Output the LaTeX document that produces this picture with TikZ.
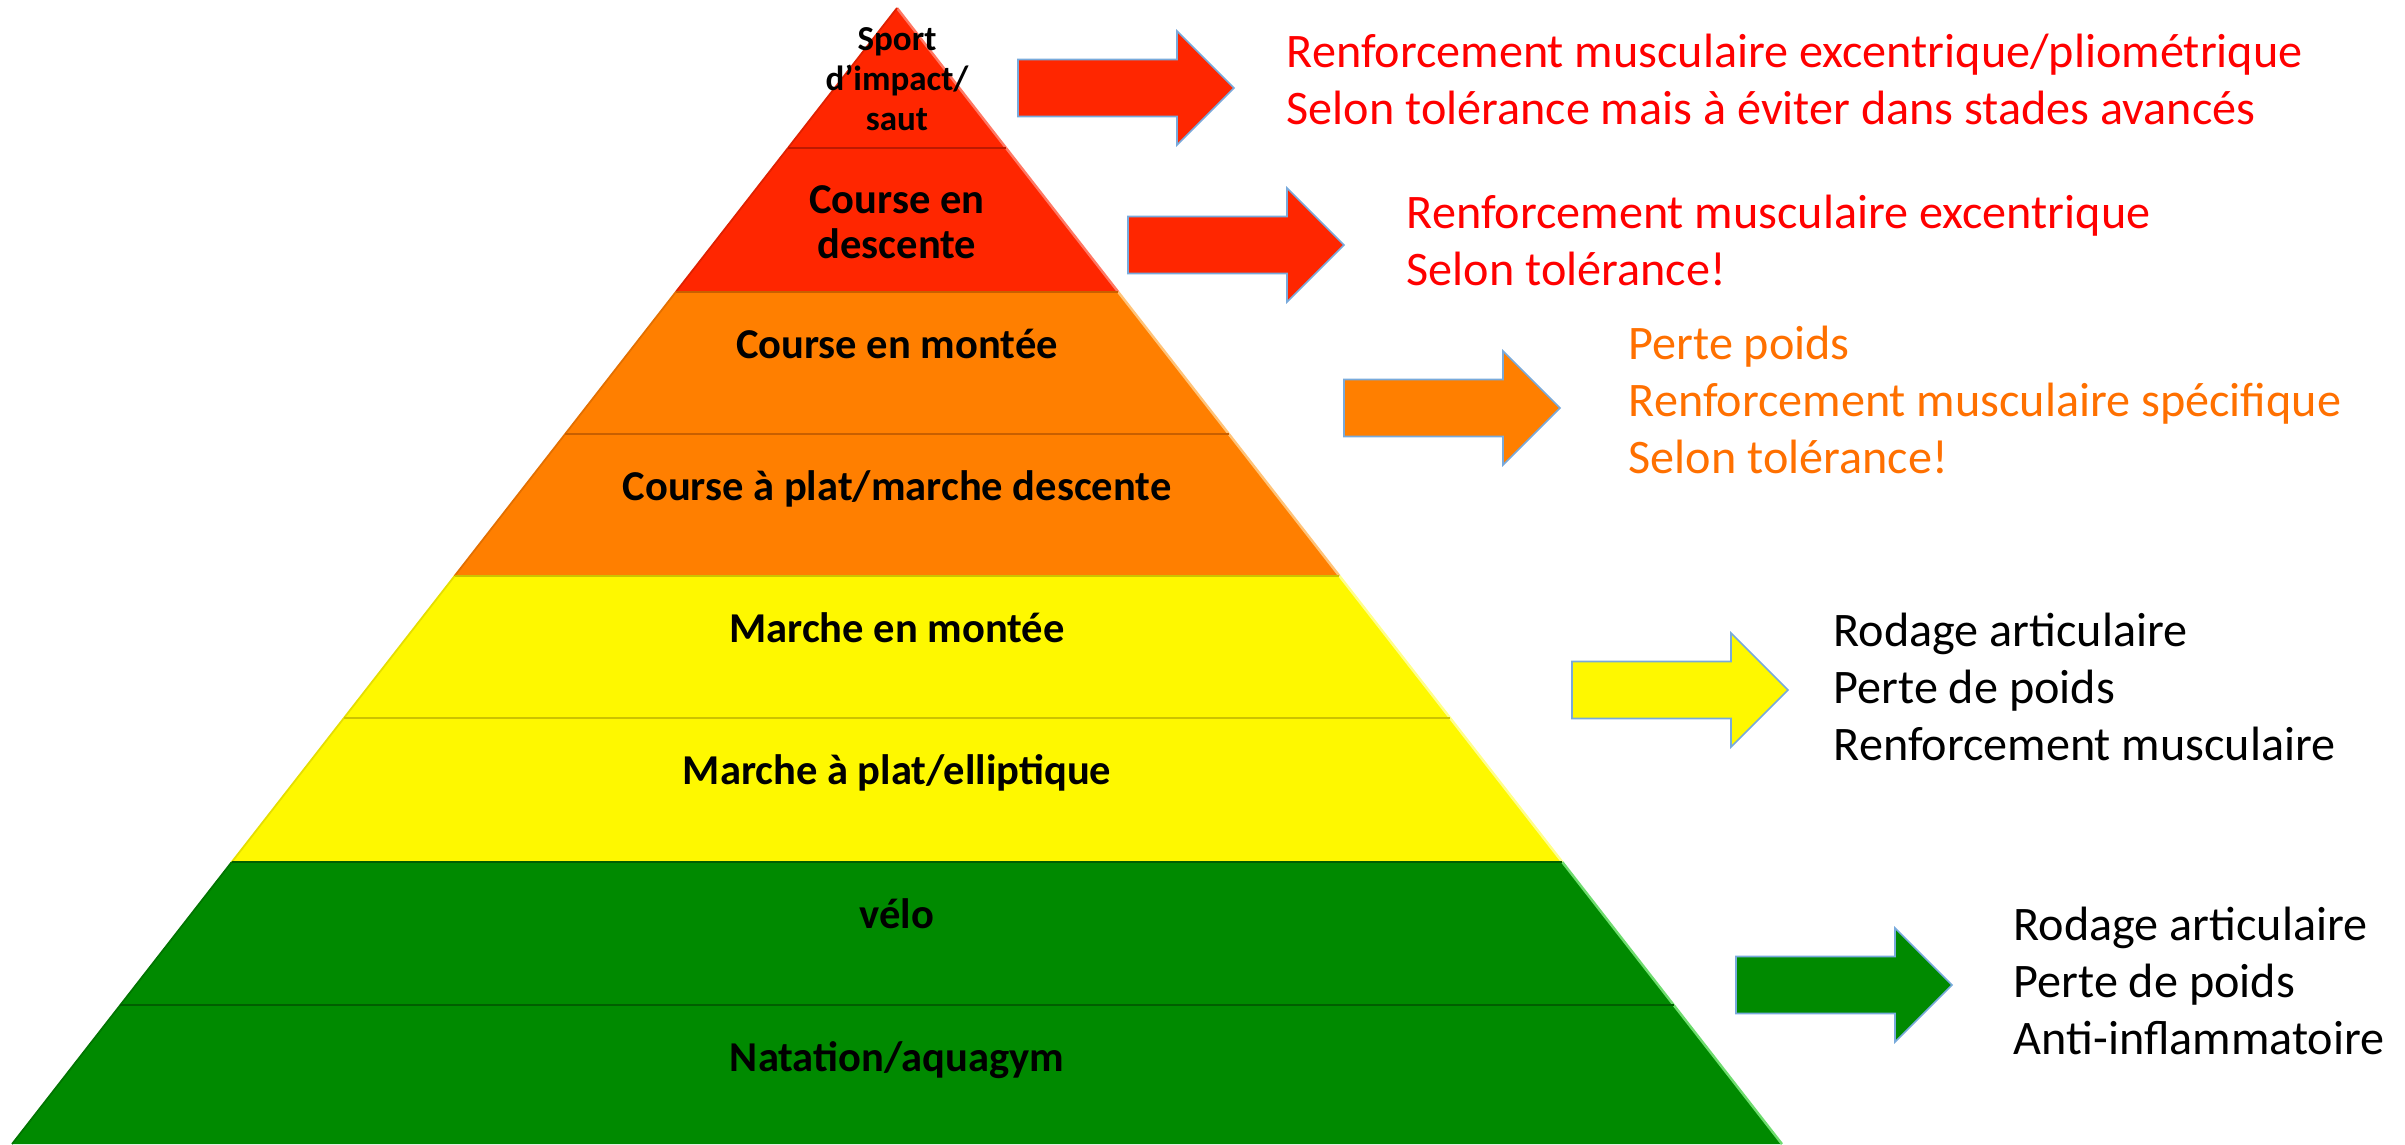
\documentclass[tikz,border=0pt]{standalone}
\usepackage{fontspec}
\setmainfont{Carlito}
\definecolor{pred}{RGB}{255,38,0}
\definecolor{predl}{RGB}{255,120,100}
\definecolor{predd}{RGB}{190,25,0}
\definecolor{porange}{RGB}{255,127,0}
\definecolor{porangel}{RGB}{255,195,120}
\definecolor{poranged}{RGB}{200,95,0}
\definecolor{pyellow}{RGB}{254,248,0}
\definecolor{pyellowl}{RGB}{255,255,140}
\definecolor{pyellowd}{RGB}{205,195,0}
\definecolor{pgreen}{RGB}{0,138,0}
\definecolor{pgreenl}{RGB}{110,220,110}
\definecolor{pgreend}{RGB}{0,95,0}
\definecolor{tred}{RGB}{255,0,0}
\definecolor{torange}{RGB}{255,112,0}
\definecolor{arrowedge}{RGB}{120,170,220}
\newcommand{\pyrband}[5]{%
  \pgfmathsetmacro{\pyxlt}{897-0.779*(#1-8)}%
  \pgfmathsetmacro{\pyxrt}{897+0.779*(#1-8)}%
  \pgfmathsetmacro{\pyxlb}{897-0.779*(#2-8)}%
  \pgfmathsetmacro{\pyxrb}{897+0.779*(#2-8)}%
  \fill[#3] (\pyxlt,#1) -- (\pyxrt,#1) -- (\pyxrb,#2) -- (\pyxlb,#2) -- cycle;
  \draw[#4, line width=0.7pt] (\pyxrt,#1) -- (\pyxrb,#2);
  \draw[#5!50!#3, line width=0.5pt] (\pyxlt,#1) -- (\pyxlb,#2);
}
\newcommand{\pyrtop}[4]{%
  \pgfmathsetmacro{\pyxa}{897-0.779*(#1-8)}%
  \pgfmathsetmacro{\pyxb}{897+0.779*(#1-8)}%
  \pgfmathsetmacro{\pyxc}{897-0.779*(#1-6)+3}%
  \pgfmathsetmacro{\pyxd}{897+0.779*(#1-6)-3}%
  \pgfmathsetmacro{\pyya}{#1+2}%
  \pgfmathsetmacro{\pyyb}{#1+18}%
  \shade[top color=#2, middle color=#3, bottom color=#2]
    (\pyxc,\pyya) -- (\pyxd,\pyya) -- (\pyxb-7,\pyyb) -- (\pyxa+7,\pyyb) -- cycle;
  \draw[#4, line width=0.8pt] (\pyxa,#1) -- (\pyxb,#1);
}
\tikzset{
  pics/blockarrow/.style={code={
    \filldraw[fill=#1, draw=arrowedge, line width=0.45pt]
      (0,-28.5) -- (159,-28.5) -- (159,-57) -- (216,0) -- (159,57)
      -- (159,28.5) -- (0,28.5) -- cycle;}},
  rtext/.style={anchor=north west, inner sep=0pt, align=left,
    font=\fontsize{13.7pt}{16.22pt}\selectfont},
  plabel/.style={anchor=base, inner sep=0pt, align=center,
    font=\bfseries\fontsize{12.1pt}{12.8pt}\selectfont, text=black}
}
\begin{document}
\begin{tikzpicture}[x=0.01cm, y=-0.01cm]
\useasboundingbox (0,0) rectangle (2405,1144);
\fill[white] (0,0) rectangle (2405,1144);

% pyramid bands
\pyrband{8}{148}{pred}{predl}{predd}
\pyrband{148}{292}{pred}{predl}{predd}
\pyrband{292}{434}{porange}{porangel}{poranged}
\pyrband{434}{576}{porange}{porangel}{poranged}
\pyrband{576}{718}{pyellow}{pyellowl}{pyellowd}
\pyrband{718}{862}{pyellow}{pyellowl}{pyellowd}
\pyrband{862}{1005}{pgreen}{pgreenl}{pgreend}
\pyrband{1005}{1144}{pgreen}{pgreenl}{pgreend}
% bevels at band tops
\pyrtop{148}{pred}{predl}{predd}
\pyrtop{292}{porange}{porangel}{poranged}
\pyrtop{434}{porange}{porangel}{poranged}
\pyrtop{576}{pyellow}{pyellowl}{pyellowd}
\pyrtop{718}{pyellow}{pyellowl}{pyellowd}
\pyrtop{862}{pgreen}{pgreenl}{pgreend}
\pyrtop{1005}{pgreen}{pgreenl}{pgreend}

% pyramid labels
\node[plabel, anchor=north, font=\bfseries\fontsize{9.96pt}{11.38pt}\selectfont] (l1) at (897,22)
  {\strut Sport\\d’impact/\\saut};
\node[plabel, anchor=north] (l2) at (897,181.5) {\strut Course en\\descente};
\node[plabel] (l3) at (897,358) {Course en montée};
\node[plabel] (l4) at (897,500) {Course à plat/marche descente};
\node[plabel] (l5) at (897,642) {Marche en montée};
\node[plabel] (l6) at (897,784) {Marche à plat/elliptique};
\node[plabel] (l7) at (897,928) {vélo};
\node[plabel] (l8) at (897,1071) {Natation/aquagym};

% block arrows
\pic (a1) at (1018,88) {blockarrow=pred};
\pic (a2) at (1128,245) {blockarrow=pred};
\pic (a3) at (1344,408) {blockarrow=porange};
\pic (a4) at (1572,690) {blockarrow=pyellow};
\pic (a5) at (1736,985) {blockarrow=pgreen};

% right-hand texts
\node[rtext, text=tred] (t1) at (1286,27)
  {\strut Renforcement musculaire excentrique/pliométrique\\Selon tolérance mais à éviter dans stades avancés};
\node[rtext, text=tred] (t2) at (1406,188)
  {\strut Renforcement musculaire excentrique\\Selon tolérance!};
\node[rtext, text=torange] (t3) at (1628,319)
  {\strut Perte poids\\Renforcement musculaire spécifique\\Selon tolérance!};
\node[rtext, text=black] (t4) at (1833,606)
  {\strut Rodage articulaire\\Perte de poids\\Renforcement musculaire};
\node[rtext, text=black] (t5) at (2013,900)
  {\strut Rodage articulaire\\Perte de poids\\Anti-inflammatoire};
\end{tikzpicture}
\end{document}
